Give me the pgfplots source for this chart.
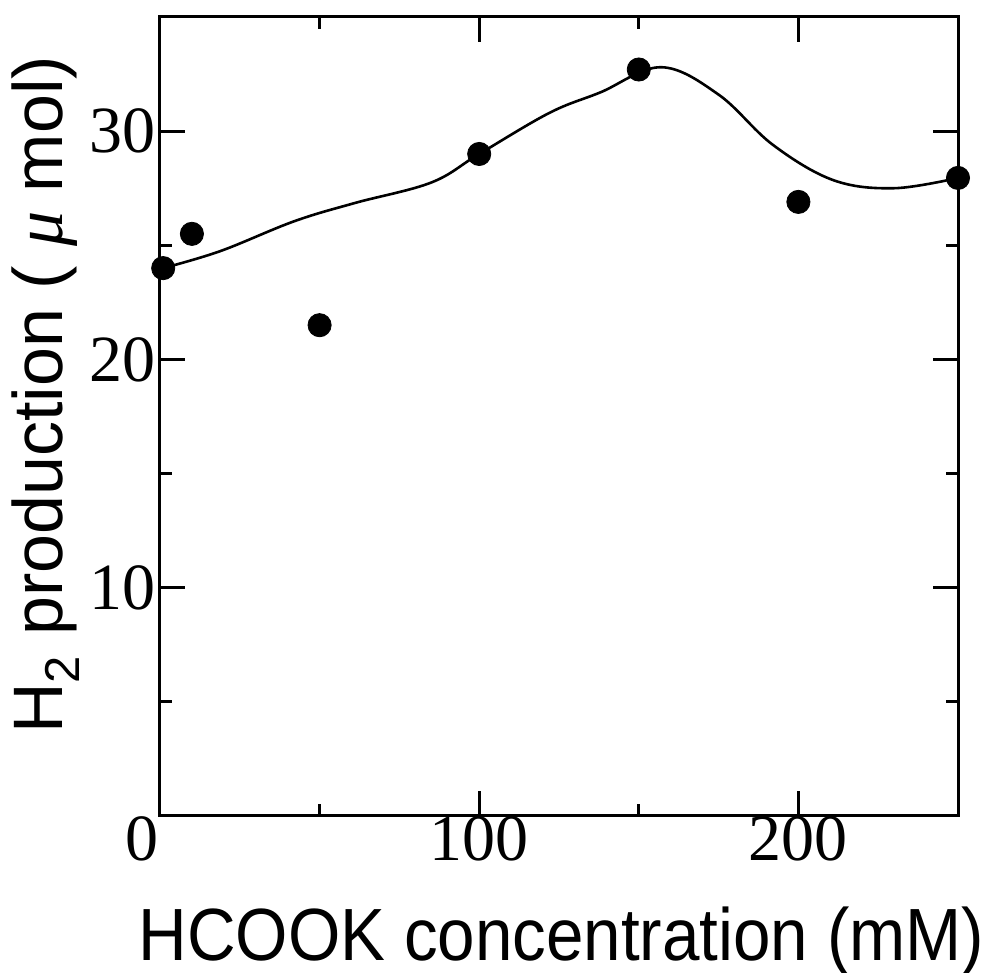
\documentclass[border=0pt]{standalone}
\usepackage{fontspec}
\setmainfont{Liberation Serif}
\newfontfamily\arial{Liberation Sans}
\usepackage{pgfplots}
\pgfplotsset{compat=1.18}
\begin{document}
\begin{tikzpicture}
\begin{axis}[
  name=ax,
  scale only axis,
  width=399pt, height=399.5pt,
  xmin=0, xmax=250, ymin=0, ymax=35,
  xtick={0,100,200}, minor xtick={50,150,250},
  xticklabels={\hspace*{-18pt}0,100,200},
  ytick={10,20,30}, minor ytick={5,15,25},
  tick align=inside,
  major tick length=12.5pt, minor tick length=6pt,
  every tick/.style={line width=1.4pt, black},
  axis line style={line width=1.5pt},
  /pgf/number format/assume math mode=true,
  ticklabel style={font=\fontsize{33}{36}\selectfont},
  xticklabel style={yshift=3pt},
  yticklabel style={xshift=1.5pt},
  clip=false,
  xlabel={\arial\fontsize{37}{42}\selectfont\scalebox{0.91}[1]{HCOOK concentration (mM)}},
  ylabel={\arial\fontsize{35}{40}\selectfont H\textsubscript{2} production ( {\rmfamily\itshape μ} mol)},
  ylabel style={at={(axis description cs:-0.1,0.527)}, anchor=south, inner sep=0pt},
  xlabel style={at={(axis description cs:0.503,-0.113)}, anchor=north, inner sep=0pt},
]
\addplot[black, line width=1.3pt, smooth, tension=0.6] coordinates {
  (1,24.0) (19,24.75) (42,26.05) (61,26.85) (85,27.75) (100,29.0)
  (122,30.8) (138,31.7) (157,32.8) (175,31.6) (192,29.4) (211,27.85)
  (230,27.5) (250,27.95)
};
\addplot[only marks, mark=*, mark size=5.8pt, black] coordinates {
  (1,24.0) (10,25.5) (50,21.5) (100,29.0) (150,32.7) (200,26.9) (250,27.95)
};
\end{axis}
\pgfresetboundingbox
\path ([shift={(-80pt,-78.5pt)}]ax.south west) rectangle ([shift={(16pt,8.5pt)}]ax.north east);
\end{tikzpicture}
\end{document}
